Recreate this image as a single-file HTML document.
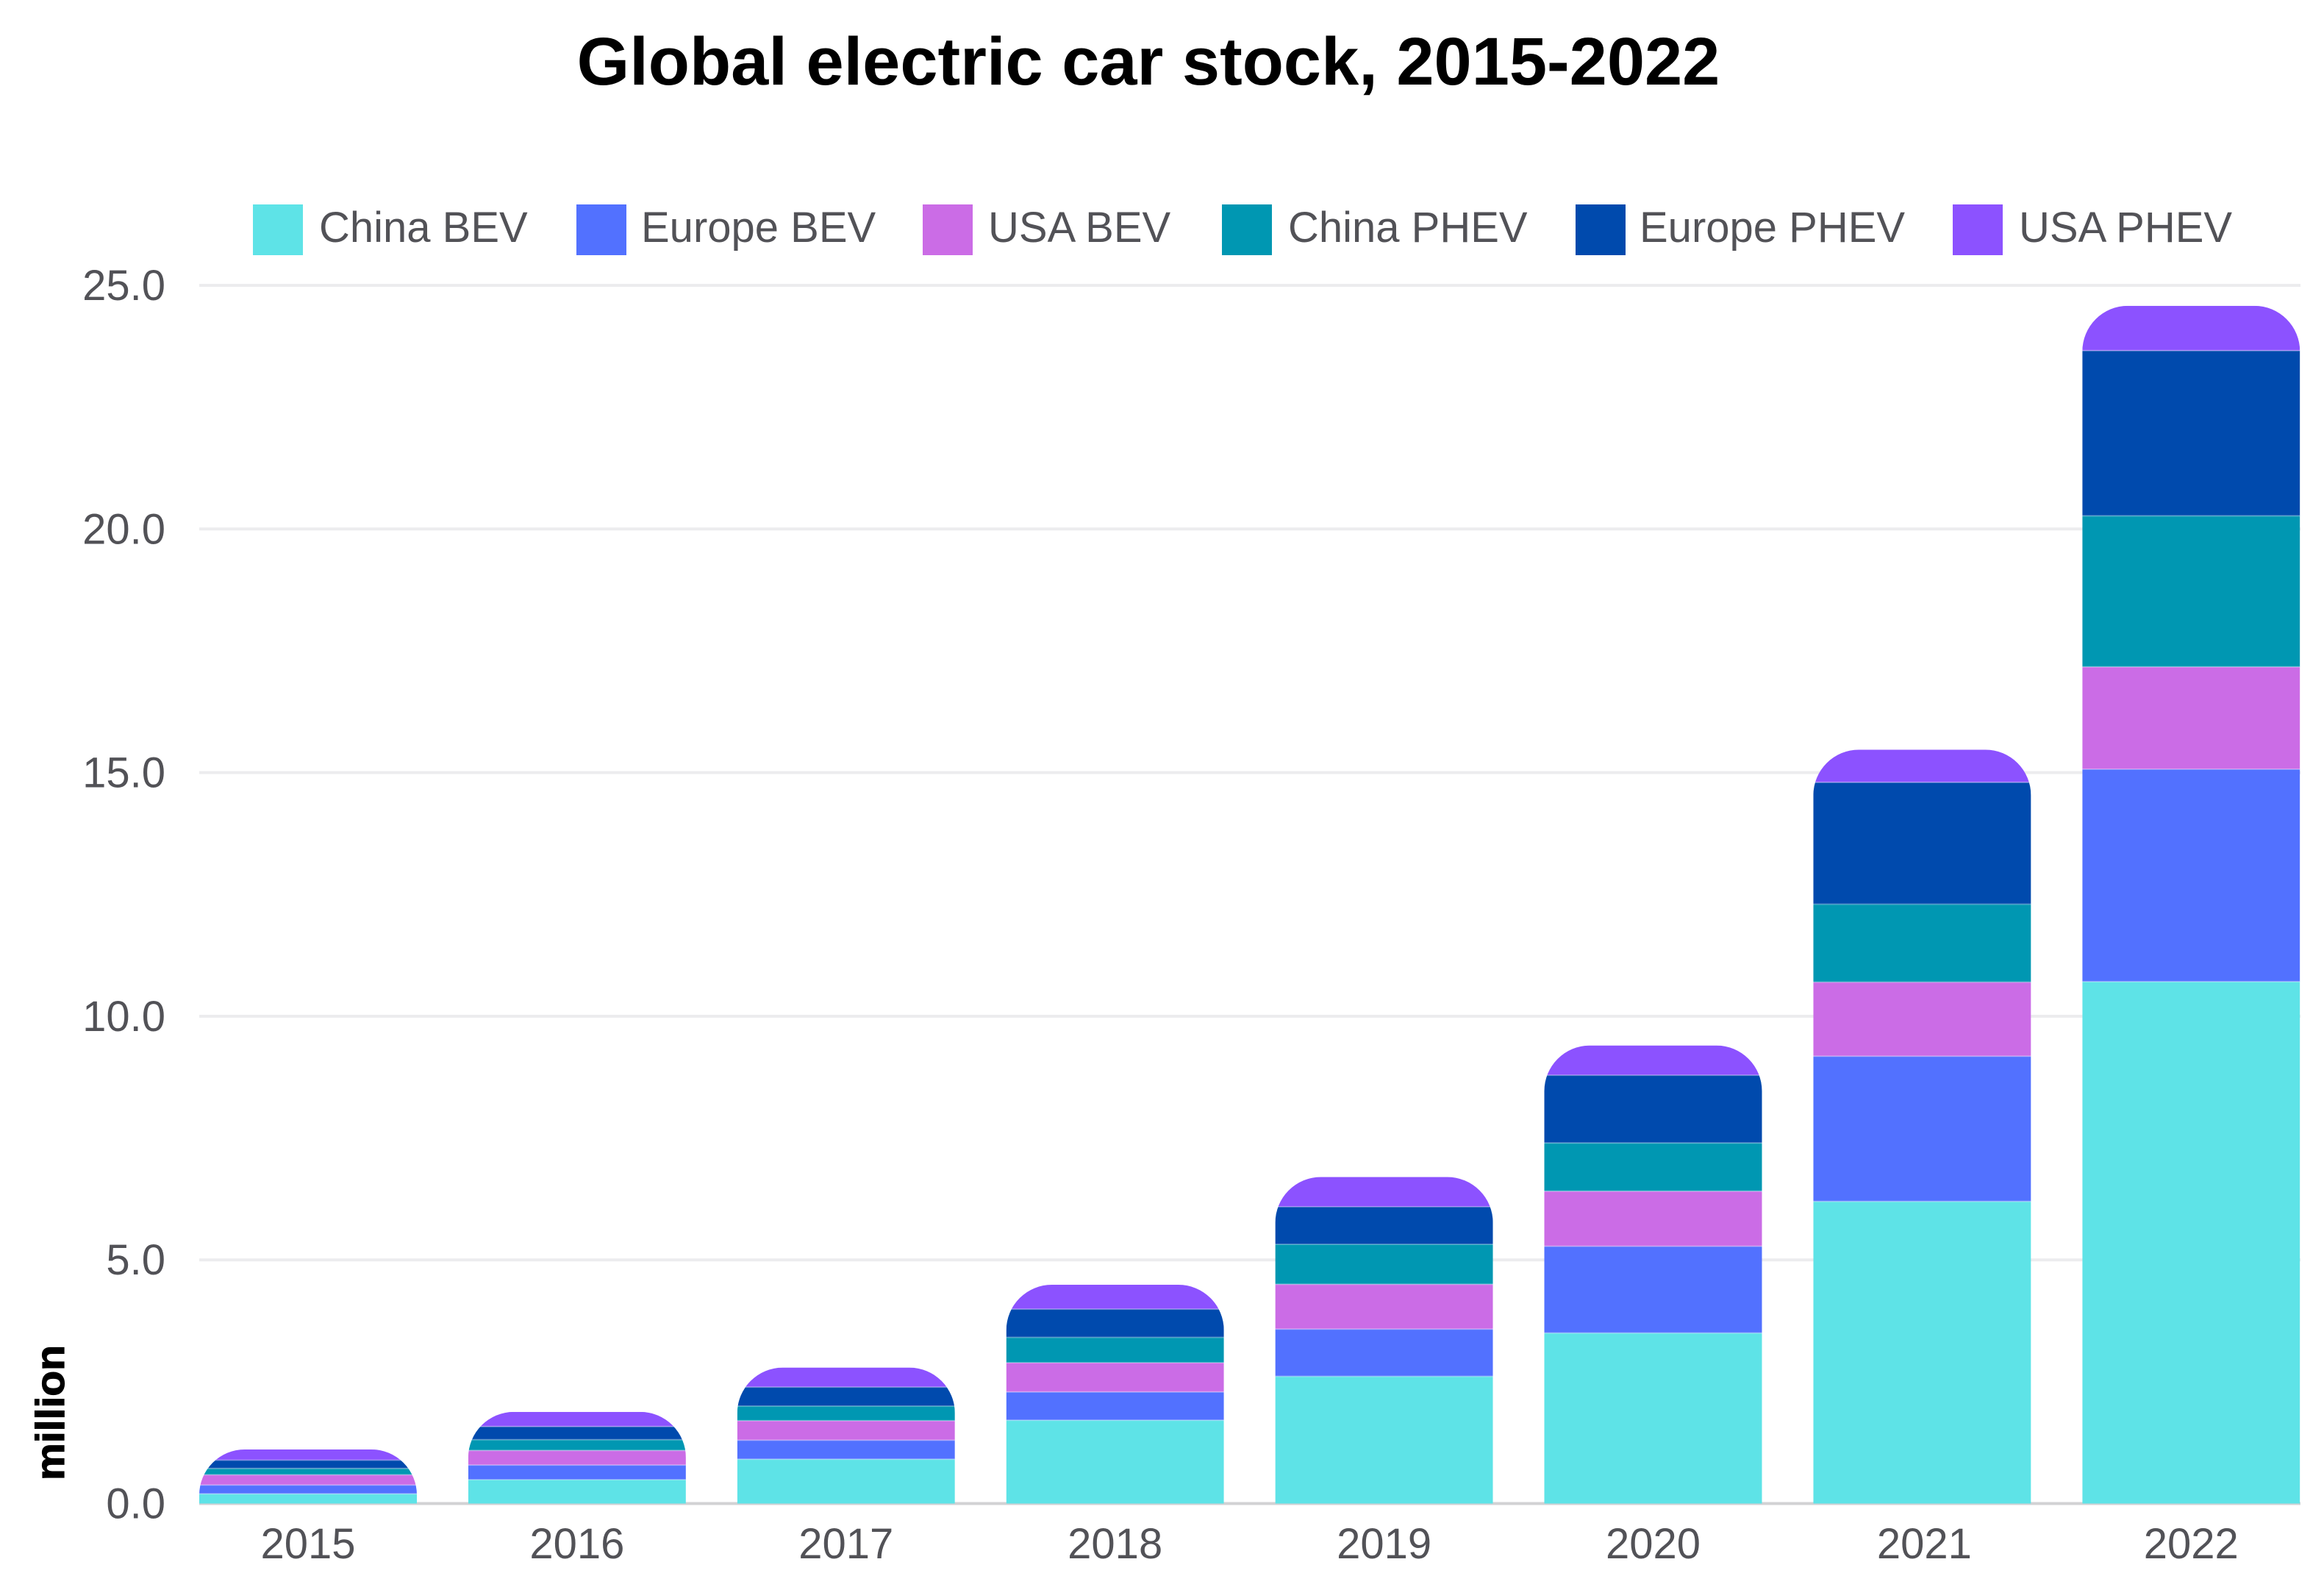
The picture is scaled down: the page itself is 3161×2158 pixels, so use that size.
<!DOCTYPE html>
<html lang="en">
<head>
<meta charset="utf-8">
<title>Global electric car stock, 2015-2022</title>
<style>
html,body{margin:0;padding:0;background:#fff;}
body{width:3161px;height:2158px;overflow:hidden;}
svg{display:block;font-family:"Liberation Sans",sans-serif;}
</style>
</head>
<body>
<svg id="chart" xmlns="http://www.w3.org/2000/svg" width="3161" height="2158" viewBox="0 0 3161 2158">
  <rect x="0" y="0" width="3161" height="2158" fill="#ffffff"/>
  <text x="1562" y="115" text-anchor="middle" font-size="92" font-weight="700" fill="#000000">Global electric car stock, 2015-2022</text>
  <text transform="translate(87,1921) rotate(-90)" text-anchor="middle" font-size="55" font-weight="700" fill="#000000" stroke="#000000" stroke-width="1.2" textLength="184" lengthAdjust="spacingAndGlyphs">million</text>
  <defs id="clips"></defs>
  <g id="grid"></g>
  <g id="yticks"></g>
  <g id="bars"></g>
  <g id="xticks"></g>
  <g id="legend"></g>
</svg>
<script>
const categories = ['2015','2016','2017','2018','2019','2020','2021','2022'];
const seriesNames = ['China BEV','Europe BEV','USA BEV','China PHEV','Europe PHEV','USA PHEV'];
const seriesColors = ['#5EE3E7','#5271FF','#CB6CE6','#0097B2','#004AAD','#8C52FF'];
const chinaBev   = [0.20,0.49,0.91,1.71,2.61,3.50,6.20,10.71];
const europeBev  = [0.18,0.30,0.39,0.58,0.97,1.78,2.98,4.36];
const usaBev     = [0.21,0.30,0.40,0.60,0.92,1.13,1.52,2.10];
const chinaPhev  = [0.13,0.22,0.30,0.52,0.82,0.99,1.60,3.10];
const europePhev = [0.17,0.27,0.39,0.58,0.77,1.39,2.50,3.39];
const usaPhev    = [0.22,0.30,0.40,0.50,0.61,0.61,0.67,0.92];
const yTickValues = [0,5,10,15,20,25];

const seriesValues = [chinaBev,europeBev,usaBev,chinaPhev,europePhev,usaPhev];
const NS = 'http://www.w3.org/2000/svg';
const plotLeft = 271, plotRight = 3129, yBase = 2044.5, yTop = 388, yMax = 25;
const barStep = 365.9, barWidth = 296, cornerR = 62;
const y = v => yBase - (v / yMax) * (yBase - yTop);
const xBar = i => plotLeft + i * barStep;

function mk(tag, attrs, parent) {
  const el = document.createElementNS(NS, tag);
  for (const k in attrs) el.setAttribute(k, attrs[k]);
  parent.appendChild(el);
  return el;
}

const grid = document.getElementById('grid');
const yticks = document.getElementById('yticks');
yTickValues.forEach(v => {
  const isBase = v === 0;
  const line = mk('rect', {x: plotLeft, y: y(v) - 2, width: plotRight - plotLeft, height: 4, fill: isBase ? '#d2d2d4' : '#ececee'}, grid);
  
  
  const t = mk('text', {x: 225, y: y(v) + 20, 'text-anchor': 'end', 'font-size': 58, fill: '#525257'}, yticks);
  
  
  t.textContent = v.toFixed(1);
});

const clips = document.getElementById('clips');
const bars = document.getElementById('bars');
const xticks = document.getElementById('xticks');
categories.forEach((cat, i) => {
  const total = seriesValues.reduce((s, arr) => s + arr[i], 0);
  const x0 = xBar(i), yT = y(total);
  const cp = mk('clipPath', {id: 'clip-' + cat}, clips);
  mk('path', {d: `M${x0} ${yBase + 1} V${yT + cornerR} A${cornerR} ${cornerR} 0 0 1 ${x0 + cornerR} ${yT} H${x0 + barWidth - cornerR} A${cornerR} ${cornerR} 0 0 1 ${x0 + barWidth} ${yT + cornerR} V${yBase + 1} Z`}, cp);
  const g = mk('g', {'clip-path': `url(#clip-${cat})`}, bars);
  
  
  let acc = 0;
  seriesValues.forEach((arr, s) => {
    const yA = y(acc + arr[i]), yB = y(acc);
    const r = mk('rect', {x: x0, y: yA, width: barWidth, height: yB - yA, fill: seriesColors[s]}, g);
    
    
    if (s > 0) {
      const sep = mk('rect', {x: x0, y: yB - 1, width: barWidth, height: 2, fill: '#ffffff', 'fill-opacity': 0.3}, g);
      
      
    }
    acc += arr[i];
  });
  const t = mk('text', {x: x0 + barWidth / 2 + (cat === '2021' ? 3 : 0), y: 2119, 'text-anchor': 'middle', 'font-size': 58, fill: '#525257'}, xticks);
  
  
  t.textContent = cat;
});

const legendSwatchX = [344, 784, 1255, 1662, 2143, 2656];
const legendTextX = [434, 872, 1344, 1752, 2230, 2746];
const legend = document.getElementById('legend');
seriesNames.forEach((name, s) => {
  const g = mk('g', {}, legend);
  
  
  const sw = mk('rect', {x: legendSwatchX[s], y: 278, width: 68, height: 69, fill: seriesColors[s]}, g);
  
  
  const t = mk('text', {x: legendTextX[s], y: 329, 'font-size': 58, fill: '#525257'}, g);
  
  
  t.textContent = name;
});
</script>
</body>
</html>
